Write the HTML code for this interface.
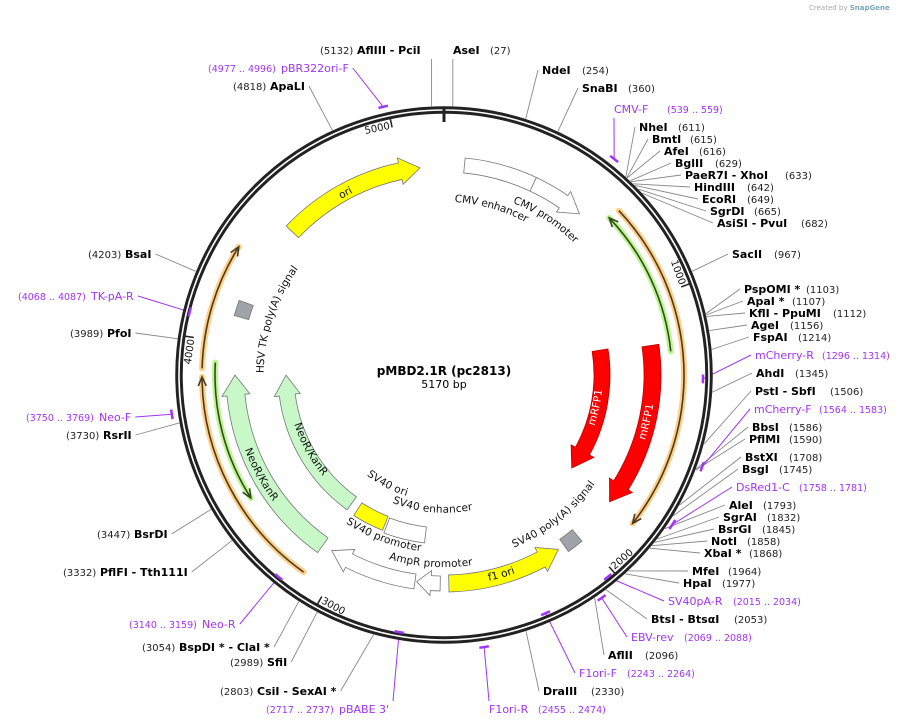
<!DOCTYPE html>
<html><head><meta charset="utf-8"><style>
html,body{margin:0;padding:0;background:#fff;}
svg{display:block;font-family:"DejaVu Sans","Liberation Sans",sans-serif;}
.en{font-weight:bold;font-size:11px;fill:#000;}
.ep{font-size:10px;fill:#222;}
.pn{font-size:11px;fill:#a034f8;}
.pr{font-size:9.5px;fill:#a034f8;}
.fl{font-size:10.5px;fill:#111;}
</style></head><body>
<svg id="map" width="907" height="726" viewBox="0 0 907 726" xmlns="http://www.w3.org/2000/svg">
<text x="809" y="10" font-size="7" fill="#aaa">Created by <tspan fill="#7ab" font-weight="bold">SnapGene</tspan></text>
<g id="lines"></g>
<g id="ring"></g>
<g id="feat"></g>
<g id="labels"></g>
<text x="444" y="375" text-anchor="middle" font-weight="bold" font-size="12">pMBD2.1R (pc2813)</text>
<text x="444" y="388" text-anchor="middle" font-size="11">5170 bp</text>
</svg>
<script>
const TOTAL = 5170;
const CX = 444, CY = 375;
const featNames = ["CMV enhancer","CMV promoter","ori","mRFP1 outer","f1 ori","SV40 poly(A) signal","AmpR promoter","SV40 promoter","NeoR/KanR outer","HSV TK poly(A) signal","NeoR/KanR inner","mRFP1 inner","SV40 ori","SV40 enhancer"];
const featStart = [80,360,4500,1176,2107,2015,2600,2700,3094,4105,3098,1163,2895,2680];
const featEnd   = [360,575,5075,1830,2566,2080,2693,3053,3877,4165,3877,1810,3055,2884];
const featDir   = [0,1,1,1,-1,0,1,1,1,0,1,1,0,0];
const featFill  = ["#fff","#fff","#ffff00","#ff0000","#ffff00","#a0a4a8","#fff","#fff","#c8f8c8","#a0a4a8","#c8f8c8","#ff0000","#ffff00","#fff"];
const featR1    = [203,203,200,200,200,201,201,201,200,203,150,150,152,153];
const featR2    = [218,218,217,217,217,216,216,216,218,218,166,166,167,169];
const thinStart = [672,667,3900,3094,3411];
const thinEnd   = [1841,1207,4337,3871,3922];
const thinDir   = [1,-1,1,1,-1];
const thinR     = [240,228,242,242,229];
const thinHalo  = ["#ffcf88","#bdf58e","#ffcf88","#ffcf88","#bdf58e"];
const thinLine  = ["#4a3a20","#2f4a20","#4a3a20","#4a3a20","#2f4a20"];
const enzNames = ["AseI","NdeI","SnaBI","NheI","BmtI","AfeI","BglII","PaeR7I - XhoI","HindIII","EcoRI","SgrDI","AsiSI - PvuI","SacII","PspOMI *","ApaI *","KflI - PpuMI","AgeI","FspAI","AhdI","PstI - SbfI","BbsI","PflMI","BstXI","BsgI","AleI","SgrAI","BsrGI","NotI","XbaI *","MfeI","HpaI","BtsI - BtsαI","AflII","DraIII",
 "AflIII - PciI","ApaLI","BsaI","PfoI","RsrII","BsrDI","PflFI - Tth111I","BspDI * - ClaI *","SfiI","CsiI - SexAI *"];
const enzPos = [27,254,360,611,615,616,629,633,642,649,665,682,967,1103,1107,1112,1156,1214,1345,1506,1586,1590,1708,1745,1793,1832,1845,1858,1868,1964,1977,2053,2096,2330,
 5132,4818,4203,3989,3730,3447,3332,3054,2989,2803];
const enzNameX = [453,542,582,639,652,664,675,685,694,702,710,717,732,744,747,749,751,753,756,755,752,749,745,742,729,723,718,711,704,692,683,651,608,543,
 357,270,125,107,103,134,100,179,267,257];
const enzY = [54,74,92,131,143,155,167,179,191,203,215,227,258,293,305,317,329,341,377,395,431,443,461,473,509,521,533,545,557,575,587,623,659,695,
 54,90,258,337,439,538,576,651,666,695];
const enzPosX = [490,582,628,678,690,699,715,785,747,747,754,801,774,806,792,833,790,798,795,830,789,789,789,779,763,767,762,747,749,728,722,734,645,591,
 320,233,88,70,66,97,63,142,230,220];
const prNames = ["CMV-F","mCherry-R","mCherry-F","DsRed1-C","SV40pA-R","EBV-rev","F1ori-F","F1ori-R","pBABE 3'","Neo-R","Neo-F","TK-pA-R","pBR322ori-F"];
const prStart = [539,1296,1564,1758,2015,2069,2243,2455,2717,3140,3750,4068,4977];
const prEnd   = [559,1314,1583,1781,2034,2088,2264,2474,2737,3159,3769,4087,4996];
const prR     = [275,259,274,273,260,273,259,275,261,261,275,262,275];
const prNameX = [614,755,754,736,668,631,579,489,339,202,99,91,281];
const prY     = [113,359,413,491,605,641,677,713,713,628,421,300,72];
const prRangeX= [667,822,819,799,733,684,627,538,266,129,26,18,208];
const ticks = [1000,2000,3000,4000,5000];
const featLabels = ["ori","CMV enhancer","CMV promoter","HSV TK poly(A) signal","NeoR/KanR","NeoR/KanR","mRFP1","mRFP1","SV40 ori","SV40 enhancer","SV40 promoter","AmpR promoter","f1 ori","SV40 poly(A) signal"];
const featLabelPos = [4762,228,478,4141,3468,3461,1465,1479,2979,2657,2880,2643,2355,2038];
const featLabelR = [208,177,189,184,209,155,156,208,124,135,174,189,207,183];
const featLabelCw = [1,1,1,1,0,0,0,0,0,0,0,0,0,0];
const featLabelWhite = [0,0,0,0,0,0,1,1,0,0,0,0,0,0];

const NS = "http://www.w3.org/2000/svg";
function ang(p){return p/TOTAL*2*Math.PI;}
function pt(r,a){return [CX+r*Math.sin(a), CY-r*Math.cos(a)];}
function f(v){return v.toFixed(2);}
function P(r,a){const q=pt(r,a);return f(q[0])+" "+f(q[1]);}
function mk(tag,parent,attrs){const e=document.createElementNS(NS,tag);for(const k in attrs)e.setAttribute(k,attrs[k]);parent.appendChild(e);return e;}
const gLines=document.getElementById('lines'), gRing=document.getElementById('ring'), gFeat=document.getElementById('feat'), gLab=document.getElementById('labels');

let rc=mk('circle',gRing,{cx:CX,cy:CY,r:265,fill:'none',stroke:'#222','stroke-width':7.5});


mk('circle',gRing,{cx:CX,cy:CY,r:265,fill:'none',stroke:'#fff','stroke-width':1.6});
let zt=mk('line',gRing,{x1:CX,y1:109,x2:CX,y2:122,stroke:'#222','stroke-width':3});


ticks.forEach(t=>{
  const a=ang(t); const p1=pt(262,a), p2=pt(253,a);
  const ln=mk('line',gRing,{x1:p1[0],y1:p1[1],x2:p2[0],y2:p2[1],stroke:'#222','stroke-width':1.5});
  
  
  let deg=a*180/Math.PI; let top=Math.cos(a)>0; let rot,anchor,r;
  if(top){rot=deg;anchor='end';r=252;} else {rot=deg-180;anchor='start';r=259;}
  const off=top?-2:2;
  const q=pt(r,a);
  const tx=mk('text',gRing,{x:f(q[0]),y:f(q[1]),'font-size':10,'text-anchor':anchor,transform:`rotate(${f(rot)} ${f(q[0])} ${f(q[1])}) translate(${off} 0)`,fill:'#111'});
  tx.textContent=String(t);
  
  
});

function arcD(r,a1,a2,sweep){const big=Math.abs(a2-a1)>Math.PI?1:0;return `A ${r} ${r} 0 ${big} ${sweep} ${P(r,a2)}`;}
function bandPath(p1,p2,r1,r2,dir){
  const a1=ang(p1), a2=ang(p2), rm=(r1+r2)/2, h=Math.min(20/rm,(a2-a1)*0.6), w=5;
  if(dir===1){const ae=a2-h;return `M ${P(r2,a1)} ${arcD(r2,a1,ae,1)} L ${P(r2+w,ae)} L ${P(rm,a2)} L ${P(r1-w,ae)} L ${P(r1,ae)} ${arcD(r1,ae,a1,0)} Z`;}
  if(dir===-1){const as=a1+h;return `M ${P(r2,as)} ${arcD(r2,as,a2,1)} L ${P(r1,a2)} ${arcD(r1,a2,as,0)} L ${P(r1-w,as)} L ${P(rm,a1)} L ${P(r2+w,as)} Z`;}
  return `M ${P(r2,a1)} ${arcD(r2,a1,a2,1)} L ${P(r1,a2)} ${arcD(r1,a2,a1,0)} Z`;
}
featNames.forEach((n,i)=>{
  const pth=mk('path',gFeat,{d:bandPath(featStart[i],featEnd[i],featR1[i],featR2[i],featDir[i]),fill:featFill[i],stroke:featFill[i]==='#ff0000'?'#b00':'#777','stroke-width':0.8});
  
  
});
thinStart.forEach((s,i)=>{
  const a1=ang(s), a2=ang(thinEnd[i]), r=thinR[i];
  const d=`M ${P(r,a1)} ${arcD(r,a1,a2,1)}`;
  const halo=mk('path',gFeat,{d:d,fill:'none',stroke:thinHalo[i],'stroke-width':6,'stroke-linecap':'round'});
  
  
  const ln=mk('path',gFeat,{d:d,fill:'none',stroke:thinLine[i],'stroke-width':1.6});
  
  
  const tipA=thinDir[i]===1?a2:a1, back=thinDir[i]===1?-9/r:9/r;
  const head=`M ${P(r-4,tipA+back)} L ${P(r,tipA)} L ${P(r+4,tipA+back)}`;
  const hd=mk('path',gFeat,{d:head,fill:'none',stroke:thinLine[i],'stroke-width':1.6});
  
  
});
featLabels.forEach((t,i)=>{
  const c=ang(featLabelPos[i]), r=featLabelR[i], cw=featLabelCw[i];
  const id='fp'+i;
  const d=cw?`M ${P(r,c-Math.PI/2)} A ${r} ${r} 0 0 1 ${P(r,c+Math.PI/2)}`:`M ${P(r,c+Math.PI/2)} A ${r} ${r} 0 0 0 ${P(r,c-Math.PI/2)}`;
  mk('path',gFeat,{id:id,d:d,fill:'none',stroke:'none'});
  const tx=mk('text',gFeat,{class:'fl',dy:'0.35em'});
  if(featLabelWhite[i]) tx.setAttribute('style','fill:#fff');
  
  
  const tp=mk('textPath',tx,{href:'#'+id,startOffset:'50%','text-anchor':'middle'});
  tp.textContent=t;
});
enzNames.forEach((n,i)=>{
  const left=enzPosX[i]<enzNameX[i];
  const g=mk('g',gLab,{});
  
  
  const parts=n.split(' - ');
  const nt=mk('text',g,{class:'en',x:enzNameX[i],y:enzY[i]});
  nt.appendChild(document.createTextNode(parts[0]));
  if(parts[1]){const ts=mk('tspan',nt,{});ts.textContent='  - '+parts[1];}
  const pt2=mk('text',g,{class:'ep',x:enzPosX[i],y:enzY[i]});
  pt2.textContent='('+enzPos[i]+')';
  const a=ang(enzPos[i]); const rp=pt(269,a);
  let ax,ay;
  if(n==='AseI'||n==='AflIII - PciI'){ax=rp[0];ay=enzY[i]+5;}
  else if(left){const bb=nt.getBBox();ax=bb.x+bb.width+4;ay=enzY[i]-4;}
  else {ax=enzNameX[i]-4;ay=enzY[i]-4;}
  const ln=mk('line',gLines,{x1:f(rp[0]),y1:f(rp[1]),x2:f(ax),y2:f(ay),stroke:'#888','stroke-width':0.9});
  
  
});
prNames.forEach((n,i)=>{
  const a1=ang(prStart[i]), a2=ang(prEnd[i]), r=prR[i], am=(a1+a2)/2;
  const g=mk('g',gLab,{});
  
  
  mk('path',g,{d:`M ${P(r,a1-0.006)} A ${r} ${r} 0 0 1 ${P(r,a2+0.006)}`,fill:'none',stroke:'#a034f8','stroke-width':2.5});
  const left=prRangeX[i]<prNameX[i];
  const nt=mk('text',g,{class:'pn',x:prNameX[i],y:prY[i]});nt.textContent=n;
  const rt=mk('text',g,{class:'pr',x:prRangeX[i],y:prY[i]});rt.textContent='('+prStart[i]+' .. '+prEnd[i]+')';
  let ax,ay;
  if(n==='CMV-F'){ax=prNameX[i];ay=prY[i]+5;}
  else if(n==='F1ori-R'){ax=prNameX[i];ay=prY[i]-12;}
  else if(n==="pBABE 3'"){ax=prNameX[i]+54;ay=prY[i]-12;}
  else if(left){const bb=nt.getBBox();ax=bb.x+bb.width+4;ay=prY[i]-4;}
  else {ax=prNameX[i]-4;ay=prY[i]-4;}
  const rp=pt(r,am);
  const ln=mk('line',gLines,{x1:f(rp[0]),y1:f(rp[1]),x2:f(ax),y2:f(ay),stroke:'#a034f8','stroke-width':1});
  
  
});
</script>
</body></html>
